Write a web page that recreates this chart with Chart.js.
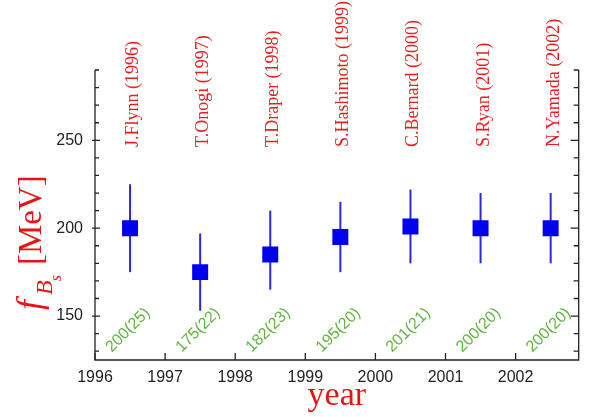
<!DOCTYPE html>
<html><head><meta charset="utf-8">
<script src="https://cdn.jsdelivr.net/npm/chart.js@4"></script>
<style>html,body{margin:0;padding:0;background:#fff}#wrap{width:590px;height:417px}</style>
</head><body><div id="wrap"><canvas id="c" width="590" height="417"></canvas></div>
<script>
const authors = ["J.Flynn (1996)","T.Onogi (1997)","T.Draper (1998)","S.Hashimoto (1999)","C.Bernard (2000)","S.Ryan (2001)","N.Yamada (2002)"];
const years = [1996.5,1997.5,1998.5,1999.5,2000.5,2001.5,2002.5];
const centers = [200,175,185,195,201,200,200];
const lowers = [175,153,165,175,180,180,180];
const uppers = [225,197,210,215,222,220,220];
const quoted = ["200(25)","175(22)","182(23)","195(20)","201(21)","200(20)","200(20)"];
const xTicks = [1996,1997,1998,1999,2000,2001,2002];
const yTicks = [150,200,250];
const yMinor = [130,140,160,170,180,190,210,220,230,240,260,270,280,290];

const pts = years.map((x,i)=>({x:x,y:centers[i]}));

const axisPlugin = {
  id:'axisPlugin',
  beforeDatasetsDraw(chart){
    const ctx=chart.ctx, xs=chart.scales.x, ys=chart.scales.y;
    ctx.save();
    ctx.strokeStyle='rgb(40,40,225)'; ctx.lineWidth=2;
    years.forEach((x,i)=>{
      const px=xs.getPixelForValue(x);
      ctx.beginPath();
      ctx.moveTo(px, ys.getPixelForValue(lowers[i]));
      ctx.lineTo(px, ys.getPixelForValue(uppers[i]));
      ctx.stroke();
    });
    ctx.restore();
  },
  afterDraw(chart){
    const ctx=chart.ctx, xs=chart.scales.x, ys=chart.scales.y, a=chart.chartArea;
    ctx.save();
    ctx.strokeStyle='#222'; ctx.lineWidth=1.3;
    ctx.beginPath();
    ctx.moveTo(a.left,a.top); ctx.lineTo(a.left,a.bottom); ctx.lineTo(a.right,a.bottom); ctx.lineTo(a.right,a.top);
    ctx.stroke();
    ctx.beginPath();
    yTicks.forEach(v=>{const py=ys.getPixelForValue(v);
      ctx.moveTo(a.left-3,py); ctx.lineTo(a.left+5,py);
      ctx.moveTo(a.right-8,py); ctx.lineTo(a.right,py);});
    yMinor.forEach(v=>{const py=ys.getPixelForValue(v);
      ctx.moveTo(a.left,py); ctx.lineTo(a.left+4,py);
      ctx.moveTo(a.right-5,py); ctx.lineTo(a.right,py);});
    xTicks.forEach(v=>{const px=xs.getPixelForValue(v);
      ctx.moveTo(px,a.bottom); ctx.lineTo(px,a.bottom-7);});
    ctx.stroke();

    // author labels
    ctx.fillStyle='rgb(232,30,30)';
    ctx.font='18px "Liberation Serif", "Times New Roman", serif';
    ctx.textAlign='left'; ctx.textBaseline='alphabetic';
    years.forEach((x,i)=>{
      const px=xs.getPixelForValue(x)+8;
      ctx.save(); ctx.translate(px,147); ctx.rotate(-Math.PI/2);
      ctx.fillText(authors[i],0,0); ctx.restore();
    });
    // quoted values
    ctx.fillStyle='rgb(95,180,65)';
    ctx.font='16px "Liberation Sans", Arial, sans-serif';
    ctx.textAlign='center'; ctx.textBaseline='middle';
    years.forEach((x,i)=>{
      const px=xs.getPixelForValue(x)-2, py=ys.getPixelForValue(142);
      ctx.save(); ctx.translate(px,py); ctx.rotate(-Math.PI/4);
      ctx.fillText(quoted[i],0,0); ctx.restore();
    });
    // x title
    ctx.fillStyle='rgb(232,20,20)';
    ctx.font='34px "Liberation Serif", "Times New Roman", serif';
    ctx.textAlign='center'; ctx.textBaseline='alphabetic';
    ctx.fillText('year',(a.left+a.right)/2,405);
    // y title
    ctx.save(); ctx.translate(41,310); ctx.rotate(-Math.PI/2);
    ctx.textAlign='left';
    let x0=0;
    ctx.font='italic 36px "Liberation Serif", serif';
    ctx.fillText('f',x0,0); x0+=ctx.measureText('f').width+5;
    ctx.font='italic 24px "Liberation Serif", serif';
    ctx.fillText('B',x0,11); x0+=ctx.measureText('B').width-1;
    ctx.font='italic 16px "Liberation Serif", serif';
    ctx.fillText('s',x0,20); x0+=ctx.measureText('s').width+10;
    ctx.font='33px "Liberation Serif", serif';
    ctx.fillText('[MeV]',x0,0);
    ctx.restore();
    ctx.restore();
  }
};

new Chart(document.getElementById('c'),{
  type:'scatter',
  data:{datasets:[{data:pts,pointStyle:'rect',pointRadius:11.3,pointHoverRadius:11.3,
    backgroundColor:'rgb(0,0,240)',borderColor:'rgb(0,0,240)',borderWidth:0}]},
  options:{
    responsive:false,animation:false,
    layout:{padding:{left:0,right:8,top:70,bottom:0}},
    plugins:{legend:{display:false},tooltip:{enabled:false}},
    scales:{
      x:{type:'linear',min:1996,max:2002.9,
        grid:{display:false,drawTicks:false},border:{display:false},
        afterBuildTicks(s){s.ticks=xTicks.map(v=>({value:v}));},
        afterFit(s){s.height=57;},
        ticks:{padding:8,color:'#222',font:{family:'"Liberation Sans", Arial, sans-serif',size:16},callback:v=>String(v),maxRotation:0,autoSkip:false}},
      y:{type:'linear',min:125,max:290,
        grid:{display:false,drawTicks:false},border:{display:false},
        afterBuildTicks(s){s.ticks=yTicks.map(v=>({value:v}));},
        afterFit(s){s.width=95;},
        ticks:{padding:12,color:'#222',font:{family:'"Liberation Sans", Arial, sans-serif',size:16},callback:v=>String(v)}}
    }
  },
  plugins:[axisPlugin]
});
</script></body></html>
